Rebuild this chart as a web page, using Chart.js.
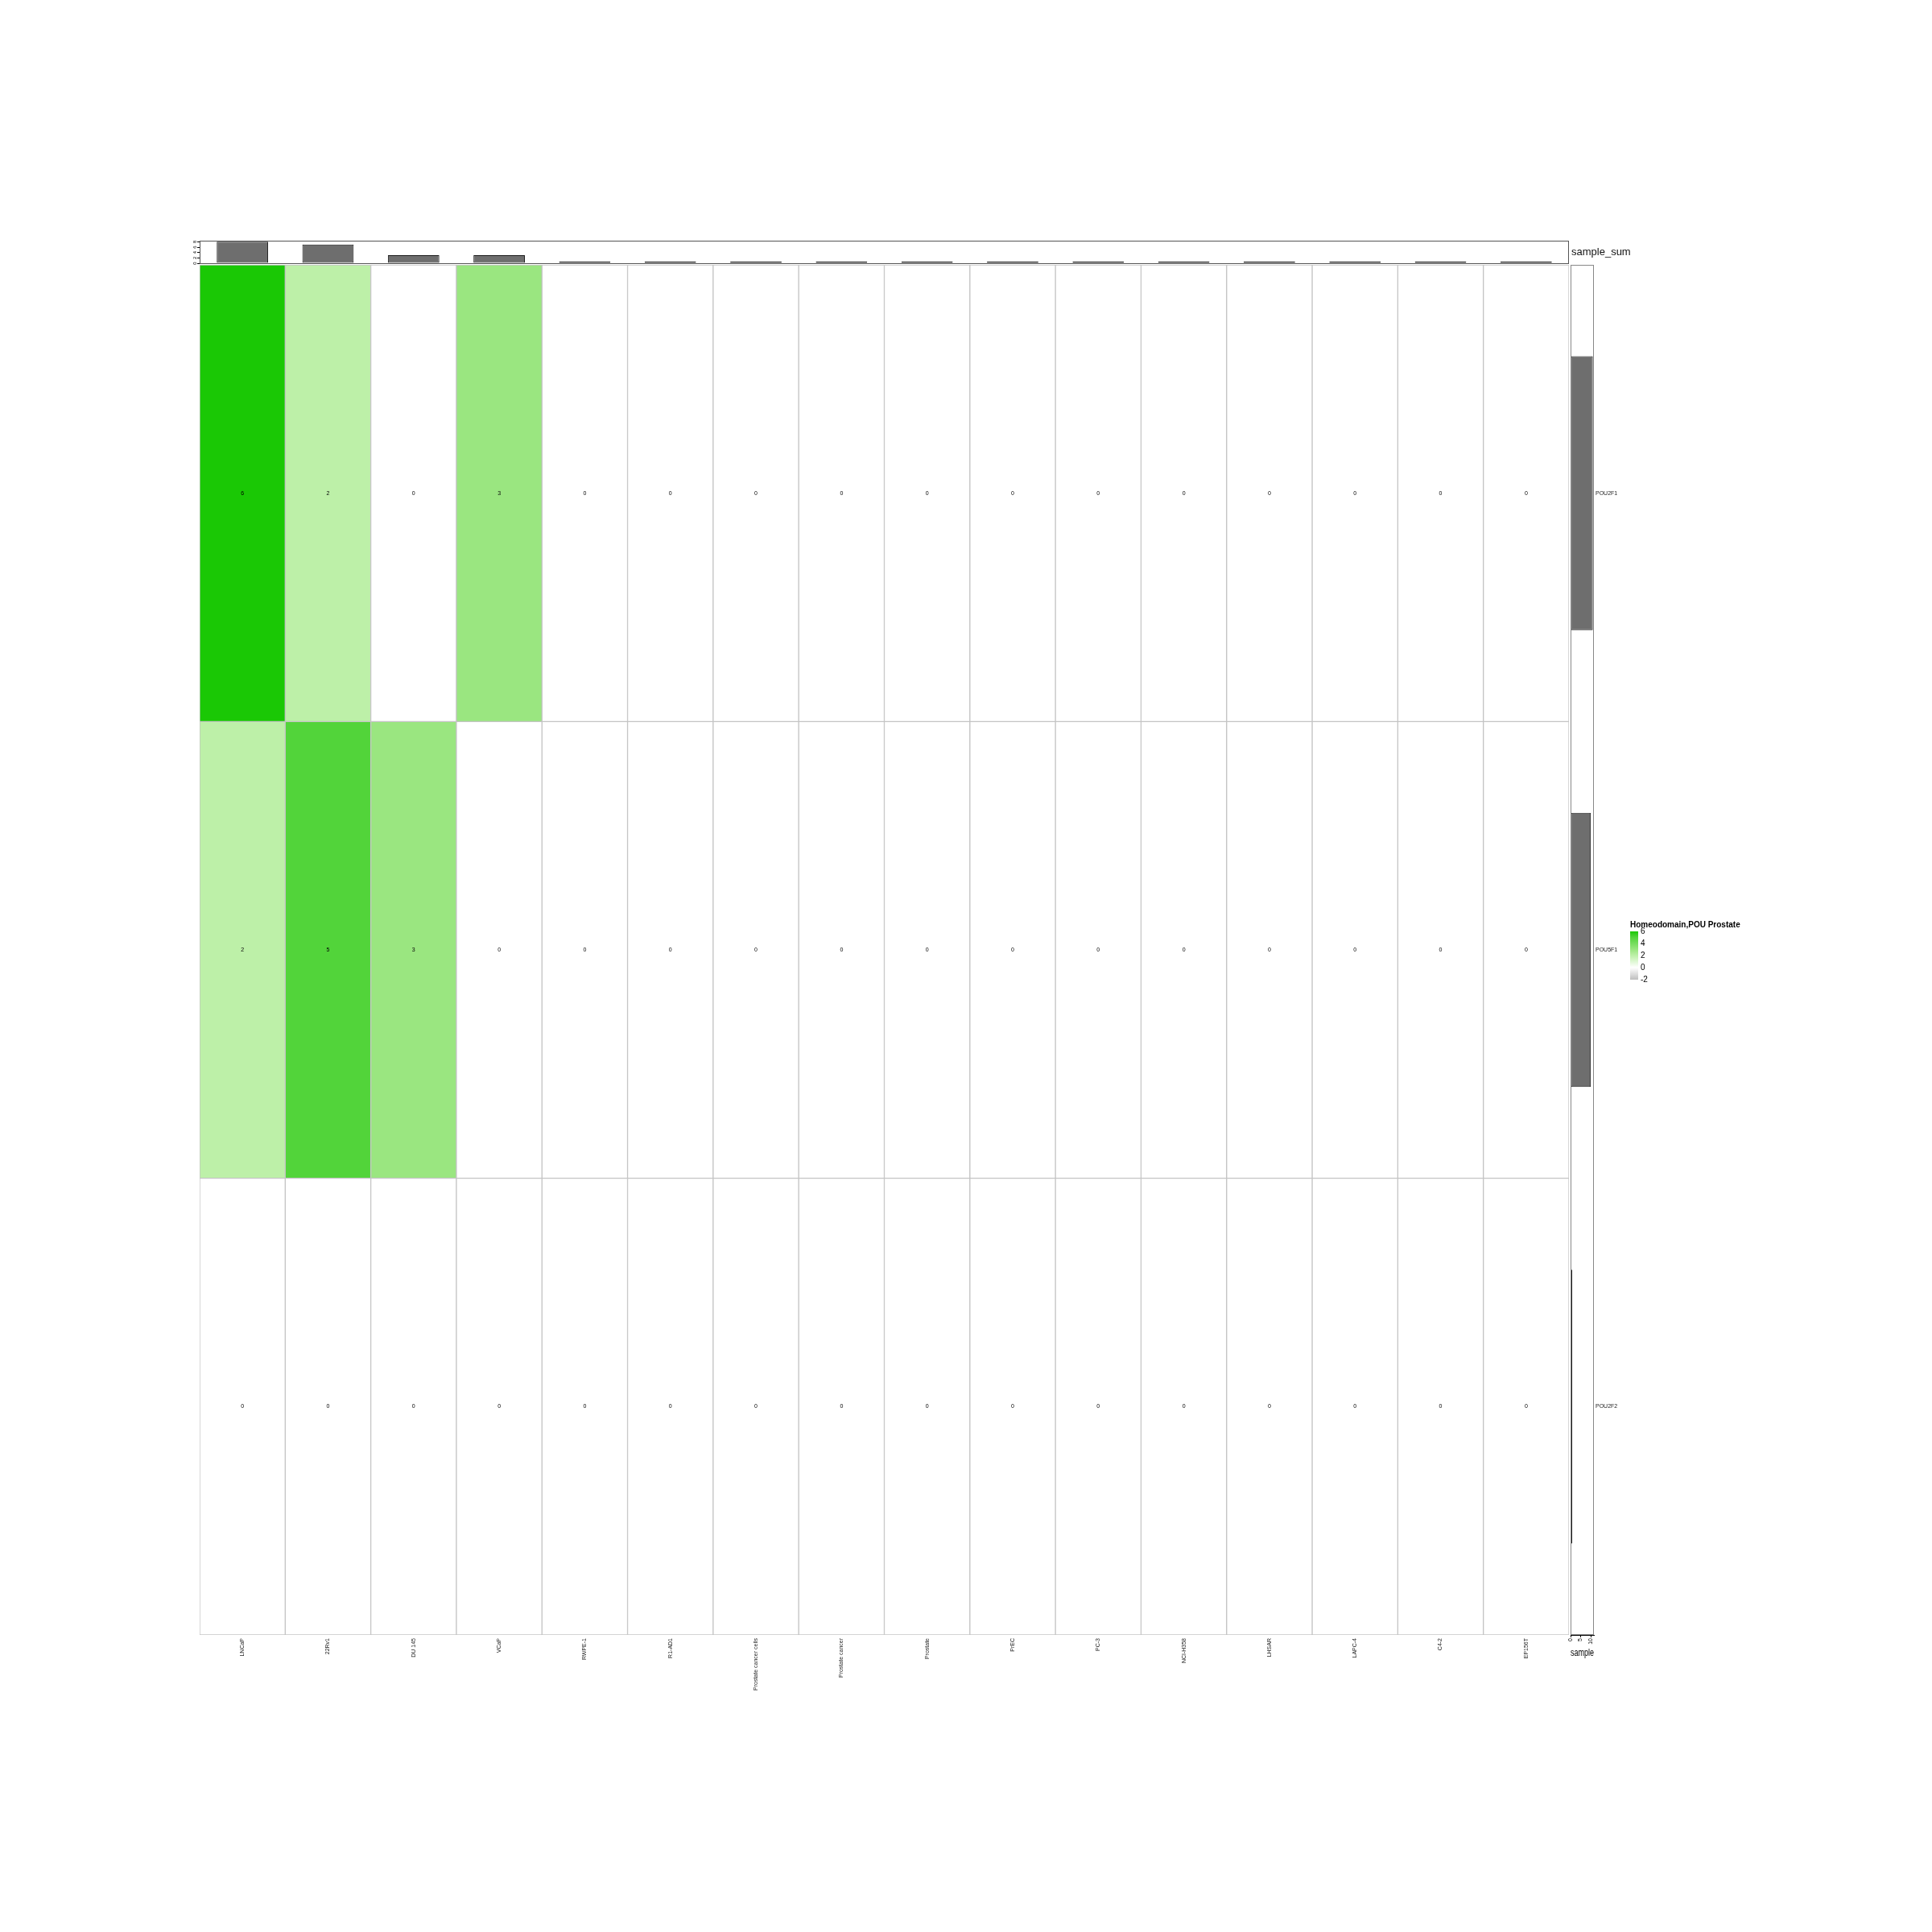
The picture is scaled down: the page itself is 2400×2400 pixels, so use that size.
<!DOCTYPE html>
<html>
<head>
<meta charset="utf-8">
<script src="https://cdn.jsdelivr.net/npm/chart.js@4.4.1/dist/chart.umd.min.js"></script>
<style>
  html, body { margin: 0; padding: 0; background: #ffffff; }
  body { width: 2400px; height: 2400px; position: relative; overflow: hidden; }
  canvas { position: absolute; }
</style>
</head>
<body>
<canvas id="heat" width="2400" height="2400" style="left:0;top:0;"></canvas>
<canvas id="topAnno" width="2400" height="400" style="left:0;top:0;"></canvas>
<canvas id="rightAnno" width="500" height="2400" style="left:1900px;top:0;"></canvas>
<canvas id="legend" width="200" height="100" style="left:2020px;top:1140px;"></canvas>
<script>
// ---------------- data ----------------
const columns = ['LNCaP', '22Rv1', 'DU 145', 'VCaP', 'RWPE-1', 'R1-AD1', 'Prostate cancer cells',
  'Prostate cancer', 'Prostate', 'PrEC', 'PC-3', 'NCI-H358', 'LHSAR', 'LAPC-4', 'C4-2', 'EP156T'];
const rows = ['POU2F1', 'POU5F1', 'POU2F2'];
const pou2f1 = [6, 2, 0, 3, 0, 0, 0, 0, 0, 0, 0, 0, 0, 0, 0, 0];
const pou5f1 = [2, 5, 3, 0, 0, 0, 0, 0, 0, 0, 0, 0, 0, 0, 0, 0];
const pou2f2 = [0, 0, 0, 0, 0, 0, 0, 0, 0, 0, 0, 0, 0, 0, 0, 0];
const sampleSum = [8, 7, 3, 3, 0, 0, 0, 0, 0, 0, 0, 0, 0, 0, 0, 0];
const rowSum = [11, 10, 0];
const topTicksStep = 2;
const rightTicksStep = 5;
const legendTicks = [-2, 0, 2, 4, 6];
const legendTitle = 'Homeodomain,POU Prostate';

// ---------------- styles ----------------
const FONT = "'Liberation Sans', Arial, Helvetica, sans-serif";
Chart.defaults.font.family = FONT;
const cellColours = { '-2': '#BEBEBE', '0': '#FFFFFF', '2': '#BDF0A8', '3': '#9AE680', '5': '#52D43A', '6': '#1AC805' };
const rowValues = [pou2f1, pou5f1, pou2f2];
const barFill = '#6E6E6E';
const barEdge = '#1A1A1A';

const base = {
  responsive: false,
  animation: false,
  devicePixelRatio: 1,
};
const noPlugins = { legend: { display: false }, tooltip: { enabled: false } };

// ---------------- heatmap ----------------
const cellText = {
  id: 'cellText',
  afterDatasetsDraw(chart) {
    const ctx = chart.ctx;
    ctx.save();
    ctx.font = '7px ' + FONT;
    ctx.fillStyle = '#000';
    ctx.textAlign = 'center';
    ctx.textBaseline = 'middle';
    chart.data.datasets.forEach((ds, i) => {
      chart.getDatasetMeta(i).data.forEach((el, j) => {
        const p = el.getProps(['x', 'y', 'base'], true);
        ctx.fillText(String(rowValues[i][j]), p.x, (p.y + p.base) / 2);
      });
    });
    ctx.restore();
  }
};

new Chart(document.getElementById('heat'), {
  type: 'bar',
  data: {
    labels: columns,
    datasets: rowValues.map((vals, r) => ({
      label: rows[r],
      data: vals.map(() => [r, r + 1]),
      backgroundColor: vals.map(v => cellColours[String(v)]),
      borderColor: '#C4C4C4',
      borderWidth: 1,
      borderSkipped: false,
      barPercentage: 1,
      categoryPercentage: 1,
      grouped: false
    }))
  },
  options: Object.assign({}, base, {
    layout: { padding: { left: 248, top: 329, right: 451, bottom: 249 } },
    plugins: noPlugins,
    scales: {
      x: {
        afterFit: s => { s.height = 120; },
        ticks: { font: { size: 7 }, color: '#222', minRotation: 90, maxRotation: 90, autoSkip: false, padding: 4 },
        grid: { display: false, drawTicks: false },
        border: { display: false }
      },
      y: { display: false, min: 0, max: rows.length, reverse: true }
    }
  }),
  plugins: [cellText]
});

// ---------------- top annotation ----------------
const frameTop = {
  id: 'frameTop',
  afterDraw(chart) {
    const { ctx, chartArea: a } = chart;
    ctx.save();
    ctx.strokeStyle = '#555';
    ctx.lineWidth = 1;
    ctx.strokeRect(a.left + 0.5, a.top + 0.5, a.width - 1, a.height);
    ctx.fillStyle = '#111';
    ctx.font = '13px ' + FONT;
    ctx.textAlign = 'left';
    ctx.textBaseline = 'middle';
    ctx.fillText('sample_sum', a.right + 3, (a.top + a.bottom) / 2);
    ctx.restore();
  }
};

new Chart(document.getElementById('topAnno'), {
  type: 'bar',
  data: {
    labels: columns,
    datasets: [{
      data: sampleSum,
      backgroundColor: barFill,
      borderColor: barEdge,
      borderWidth: 1,
      borderSkipped: false,
      barPercentage: 0.6,
      categoryPercentage: 1,
      minBarLength: 2
    }]
  },
  options: Object.assign({}, base, {
    layout: { padding: { left: 228, top: 299, right: 451, bottom: 73 } },
    plugins: noPlugins,
    scales: {
      x: { display: false },
      y: {
        min: 0, max: 8.4,
        afterFit: s => { s.width = 20; },
        ticks: { stepSize: topTicksStep, includeBounds: false, font: { size: 6 }, color: '#000',
                 minRotation: 90, maxRotation: 90, crossAlign: 'center', padding: 1 },
        grid: { drawOnChartArea: false, drawTicks: true, tickLength: 3, color: '#000' },
        border: { display: true, color: '#000', width: 1 }
      }
    }
  }),
  plugins: [frameTop]
});

// ---------------- right annotation ----------------
const frameRight = {
  id: 'frameRight',
  afterDraw(chart) {
    const { ctx, chartArea: a } = chart;
    ctx.save();
    ctx.strokeStyle = '#888';
    ctx.lineWidth = 1;
    ctx.strokeRect(a.left + 0.5, a.top + 0.5, a.width - 1, a.height - 1);
    ctx.restore();
  }
};

new Chart(document.getElementById('rightAnno'), {
  type: 'bar',
  data: {
    labels: rows,
    datasets: [{
      data: rowSum,
      backgroundColor: barFill,
      borderColor: barEdge,
      borderWidth: 1,
      borderSkipped: false,
      barPercentage: 0.6,
      categoryPercentage: 1,
      minBarLength: 2
    }]
  },
  options: Object.assign({}, base, {
    indexAxis: 'y',
    layout: { padding: { left: 51, top: 329, right: 370, bottom: 339 } },
    plugins: noPlugins,
    scales: {
      x: {
        min: 0, max: 11.55,
        afterFit: s => { s.height = 30; },
        ticks: { stepSize: rightTicksStep, includeBounds: false, font: { size: 7 }, color: '#000',
                 minRotation: 90, maxRotation: 90, padding: 1 },
        grid: { drawOnChartArea: false, drawTicks: true, tickLength: 3, color: '#000' },
        border: { display: true, color: '#000', width: 1 },
        title: { display: true, text: 'sample', font: { size: 13 }, color: '#000', padding: 0 }
      },
      y: {
        position: 'right',
        afterFit: s => { s.width = 50; },
        ticks: { font: { size: 7 }, color: '#222', padding: 2 },
        grid: { display: false, drawTicks: false },
        border: { display: false }
      }
    }
  }),
  plugins: [frameRight]
});

// ---------------- colour legend ----------------
function legendGradient(chart) {
  const { ctx, chartArea, scales } = chart;
  if (!chartArea) return '#dddddd';
  const y = scales.y;
  const lo = legendTicks[0], hi = legendTicks[legendTicks.length - 1];
  const g = ctx.createLinearGradient(0, y.getPixelForValue(lo), 0, y.getPixelForValue(hi));
  Object.keys(cellColours).map(Number).sort((a, b) => a - b).forEach(v => {
    g.addColorStop((v - lo) / (hi - lo), cellColours[String(v)]);
  });
  return g;
}

new Chart(document.getElementById('legend'), {
  type: 'bar',
  data: {
    labels: [legendTitle],
    datasets: [{
      data: [[legendTicks[0], legendTicks[legendTicks.length - 1]]],
      backgroundColor: c => legendGradient(c.chart),
      borderWidth: 0,
      barPercentage: 1,
      categoryPercentage: 1
    }]
  },
  options: Object.assign({}, base, {
    layout: { padding: { left: 5, top: 0, right: 5, bottom: 23 } },
    plugins: {
      legend: { display: false },
      tooltip: { enabled: false },
      title: { display: true, text: legendTitle, align: 'start', color: '#000',
               font: { size: 10, weight: 'bold' }, padding: { top: 3, bottom: 2 } }
    },
    scales: {
      x: { display: false },
      y: {
        position: 'right',
        min: legendTicks[0], max: legendTicks[legendTicks.length - 1],
        afterFit: s => { s.width = 180; },
        afterBuildTicks: s => { s.ticks = legendTicks.map(v => ({ value: v })); },
        ticks: { font: { size: 10 }, color: '#000', padding: 3 },
        grid: { color: '#ffffff', lineWidth: 1, drawTicks: false },
        border: { display: false, dash: [2, 6] },
        z: 1
      }
    }
  })
});
</script>
</body>
</html>
